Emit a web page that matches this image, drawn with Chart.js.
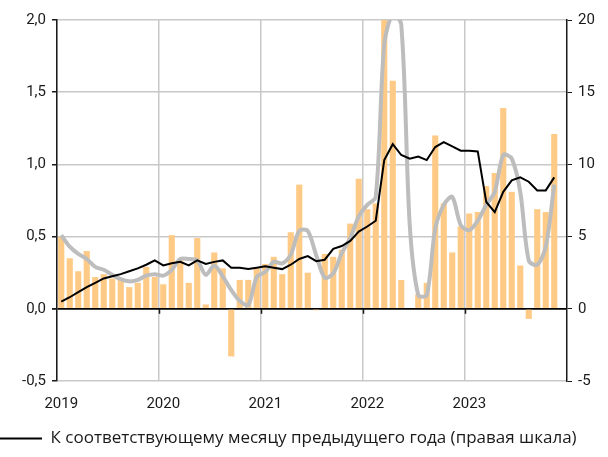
<!DOCTYPE html>
<html>
<head>
<meta charset="utf-8">
<script src="https://cdn.jsdelivr.net/npm/chart.js@4.4.1/dist/chart.umd.min.js"></script>
<style>
  body { margin: 0; background: #fff; }
  #chart { display: block; }
</style>
</head>
<body>
<canvas id="chart" width="608" height="457"></canvas>
<script>
const years = ['2019', '2020', '2021', '2022', '2023'];
const months = ['01', '02', '03', '04', '05', '06', '07', '08', '09', '10', '11', '12'];

// к предыдущему месяцу, левая шкала (столбцы)
const momValues = [
    0.50, 0.35, 0.26, 0.40, 0.22, 0.24, 0.21, 0.21, 0.15, 0.18, 0.29, 0.22,
    0.17, 0.51, 0.34, 0.18, 0.49, 0.03, 0.39, 0.28, -0.33, 0.20, 0.20, 0.28,
    0.31, 0.36, 0.24, 0.53, 0.86, 0.25, -0.01, 0.38, 0.36, 0.41, 0.59, 0.90,
    0.69, 0.73, 2.10, 1.58, 0.20, 0.00, 0.10, 0.18, 1.20, 0.73, 0.39, 0.57,
    0.66, 0.67, 0.85, 0.94, 1.39, 0.81, 0.30, -0.07, 0.69, 0.67, 1.21
];

// к соответствующему месяцу предыдущего года, правая шкала (чёрная линия)
const yoyValues = [
    0.5, 0.8, 1.15, 1.5, 1.8, 2.1, 2.25, 2.4, 2.6, 2.8, 3.05, 3.35,
    3.0, 3.15, 3.25, 3.0, 3.35, 3.1, 3.25, 3.35, 2.85, 2.85, 2.75, 2.85,
    2.95, 2.85, 2.75, 3.05, 3.45, 3.65, 3.3, 3.4, 4.15, 4.35, 4.7, 5.35,
    5.7, 6.1, 10.3, 11.4, 10.65, 10.4, 10.55, 10.3, 11.2, 11.55, 11.25, 10.95,
    10.95, 10.9, 7.4, 6.7, 8.1, 8.9, 9.1, 8.8, 8.2, 8.2, 9.1
];

// серая линия, правая шкала
const greyValues = [
    5.1, 4.3, 3.8, 3.45, 2.9, 2.7, 2.35, 2.05, 1.9, 2.0, 2.3, 2.4,
    2.3, 2.7, 3.45, 3.45, 3.35, 2.35, 3.0, 2.25, 1.3, 0.55, 0.25, 2.2,
    2.55, 3.25, 3.15, 3.75, 5.4, 5.4, 3.7, 2.15, 2.45, 3.85, 4.9, 6.4,
    7.2, 7.75, 18.3, 20.4, 19.7, 5.8, 0.95, 0.95, 5.55, 7.2, 7.75, 5.8,
    5.45, 6.1, 7.2, 8.1, 10.65, 10.4, 8.1, 3.35, 3.05, 4.3, 8.6
];

const labels = [];
years.forEach(y => months.forEach(m => labels.push(y + '-' + m)));

const FONT = 'Roboto';
Chart.defaults.font.family = FONT;
Chart.defaults.color = '#1a1a1a';

// маленькие засечки на нулевой линии в начале каждого года
const zeroTicks = {
    id: 'zeroTicks',
    afterDatasetsDraw(chart) {
        const x = chart.scales.x;
        const y0 = chart.scales.y.getPixelForValue(0);
        const ctx = chart.ctx;
        ctx.save();
        ctx.strokeStyle = '#1a1a1a';
        ctx.lineWidth = 1.5;
        for (let i = 12; i < labels.length; i += 12) {
            const px = Math.round(x.getPixelForValue(i - 0.5)) + 0.5;
            ctx.beginPath();
            ctx.moveTo(px, y0);
            ctx.lineTo(px, y0 + 5);
            ctx.stroke();
        }
        ctx.restore();
    }
};

new Chart(document.getElementById('chart'), {
    data: {
        labels: labels,
        datasets: [
            {
                type: 'line',
                label: 'К соответствующему месяцу предыдущего года (правая шкала)',
                data: yoyValues,
                yAxisID: 'y1',
                borderColor: '#000000',
                backgroundColor: '#000000',
                borderWidth: 2,
                pointRadius: 0,
                tension: 0,
                order: 0
            },
            {
                type: 'line',
                label: 'grey',
                data: greyValues,
                yAxisID: 'y1',
                borderColor: '#bdbdbd',
                borderWidth: 4,
                pointRadius: 0,
                tension: 0.3,
                order: 1
            },
            {
                type: 'bar',
                label: 'bars',
                data: momValues,
                yAxisID: 'y',
                backgroundColor: '#ffca85',
                categoryPercentage: 1,
                barPercentage: 0.72,
                order: 2
            }
        ]
    },
    options: {
        responsive: false,
        animation: false,
        layout: { padding: { top: 20, left: 0, right: 0, bottom: 0 } },
        plugins: {
            tooltip: { enabled: false },
            legend: {
                position: 'bottom',
                align: 'start',
                labels: {
                    filter: item => item.datasetIndex === 0,
                    usePointStyle: true,
                    pointStyle: 'line',
                    pointStyleWidth: 42,
                    padding: 0,
                    color: '#1a1a1a',
                    font: { size: 17, family: 'Open Sans', lineHeight: 1 }
                }
            }
        },
        scales: {
            x: {
                type: 'category',
                offset: true,
                grid: {
                    offset: true,
                    drawTicks: false,
                    color: ctx => (ctx.index % 12 === 0 ? '#c8c8c8' : 'rgba(0,0,0,0)'),
                    lineWidth: 1.5
                },
                border: { display: false },
                ticks: {
                    autoSkip: false,
                    maxRotation: 0,
                    padding: 14,
                    font: { size: 15 },
                    callback: (v, i) => (i % 12 === 0 ? labels[i].slice(0, 4) : '')
                },
                afterFit: s => { s.height = 49; }
            },
            y: {
                position: 'left',
                min: -0.5,
                max: 2,
                ticks: {
                    stepSize: 0.5,
                    padding: 6,
                    font: { size: 15 },
                    callback: v => v.toFixed(1).replace('.', ',')
                },
                grid: {
                    color: ctx => (ctx.tick && ctx.tick.value === 0 ? '#000000' : '#c8c8c8'),
                    lineWidth: ctx => (ctx.tick && ctx.tick.value === 0 ? 1.8 : 1.5),
                    tickColor: '#1a1a1a',
                    tickLength: 5
                },
                border: { display: true, color: '#1a1a1a', width: 1.5 },
                afterFit: s => { s.width = 57; }
            },
            y1: {
                position: 'right',
                min: -5,
                max: 20,
                ticks: {
                    stepSize: 5,
                    padding: 6,
                    font: { size: 15 }
                },
                grid: {
                    drawOnChartArea: false,
                    tickColor: '#1a1a1a',
                    tickLength: 5
                },
                border: { display: true, color: '#1a1a1a', width: 1.5 },
                afterFit: s => { s.width = 41; }
            }
        }
    },
    plugins: [zeroTicks]
});
</script>
</body>
</html>
